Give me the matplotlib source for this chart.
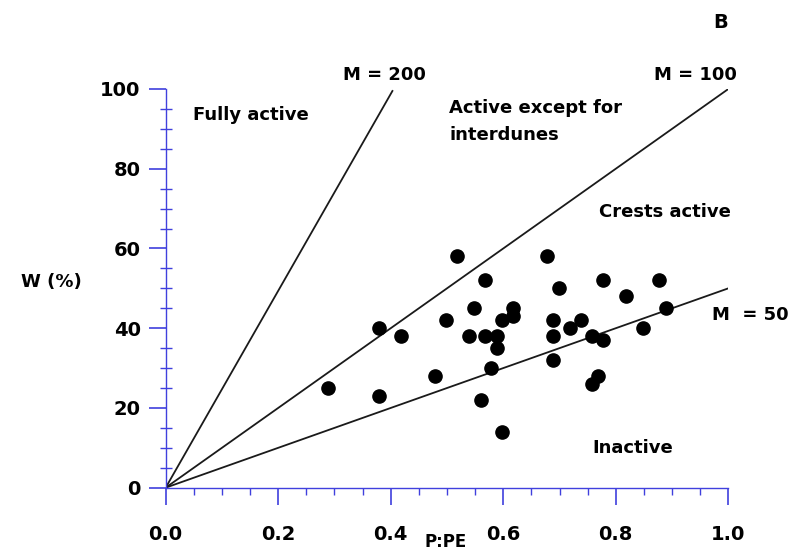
import matplotlib
matplotlib.use('Agg')
import matplotlib.pyplot as plt
from matplotlib.ticker import MultipleLocator

# points
p_pe = [0.288, 0.38, 0.38, 0.418, 0.478, 0.499, 0.518, 0.539, 0.548, 0.56,
        0.568, 0.568, 0.578, 0.588, 0.588, 0.598, 0.618, 0.618, 0.598, 0.677,
        0.689, 0.689, 0.689, 0.699, 0.719, 0.738, 0.757, 0.758, 0.769, 0.778,
        0.778, 0.819, 0.849, 0.877, 0.889]
w_pct = [25, 40, 23, 38, 28, 42, 58, 38, 45, 22,
         52, 38, 30, 38, 35, 42, 43, 45, 14, 58,
         42, 38, 32, 50, 40, 42, 38, 26, 28, 52,
         37, 48, 40, 52, 45]

# mobility lines M = 200, 100, 50 (from origin to end point)
m_names = ['M = 200', 'M = 100', 'M  = 50']
m_end_x = [0.403, 1.0, 1.0]
m_end_y = [99.5, 100, 50]

x_ticks = [0.0, 0.2, 0.4, 0.6, 0.8, 1.0]
y_ticks = [0, 20, 40, 60, 80, 100]

blue = '#4040dd'

fig = plt.figure(figsize=(7.98, 5.52), dpi=100)
ax = fig.add_axes([0.2076, 0.1165, 0.7051, 0.7223])

for i in range(len(m_names)):
    ax.plot([0, m_end_x[i]], [0, m_end_y[i]], color='#1a1a1a', lw=1.3, zorder=2)

ax.plot(p_pe, w_pct, 'o', color='black', markersize=9.5, zorder=3)

ax.set_xlim(0, 1.0)
ax.set_ylim(0, 100)
ax.set_xticks(x_ticks)
ax.set_yticks(y_ticks)
ax.set_xticklabels(['%.1f' % v for v in x_ticks])
ax.set_yticklabels([str(v) for v in y_ticks])
ax.xaxis.set_minor_locator(MultipleLocator(0.05))
ax.yaxis.set_minor_locator(MultipleLocator(5))

for s in ['top', 'right']:
    ax.spines[s].set_visible(False)
for s in ['left', 'bottom']:
    ax.spines[s].set_color(blue)
    ax.spines[s].set_linewidth(1.0)

ax.tick_params(axis='x', which='major', direction='out', length=12, width=1.2,
               color=blue, pad=15, labelsize=14)
ax.tick_params(axis='y', which='major', direction='out', length=12, width=1.2,
               color=blue, pad=6, labelsize=14)
ax.tick_params(axis='x', which='minor', direction='out', length=5, width=1, color=blue)
ax.tick_params(axis='y', which='minor', direction='inout', length=9, width=1, color=blue)
for lab in ax.get_xticklabels() + ax.get_yticklabels():
    lab.set_fontweight('bold')

tkw = dict(fontsize=13, fontweight='bold', color='black', clip_on=False)
ax.text(0.389, 103.5, m_names[0], ha='center', va='center', **tkw)
ax.text(0.941, 103.5, m_names[1], ha='center', va='center', **tkw)
ax.text(0.971, 43.3, m_names[2], ha='left', va='center', **tkw)
ax.text(0.048, 93.5, 'Fully active', ha='left', va='center', **tkw)
ax.text(0.504, 95.2, 'Active except for', ha='left', va='center', **tkw)
ax.text(0.504, 88.5, 'interdunes', ha='left', va='center', **tkw)
ax.text(0.771, 69.2, 'Crests active', ha='left', va='center', **tkw)
ax.text(0.759, 10, 'Inactive', ha='left', va='center', **tkw)

fig.text(51.5 / 798, 1 - 282 / 552, 'W (%)', ha='center', va='center',
         fontsize=13, fontweight='bold')
fig.text(446 / 798, 1 - 541.7 / 552, 'P:PE', ha='center', va='center',
         fontsize=12, fontweight='bold')
fig.text(720.5 / 798, 1 - 22 / 552, 'B', ha='center', va='center',
         fontsize=14, fontweight='bold')

fig.savefig('out.png', dpi=100)
